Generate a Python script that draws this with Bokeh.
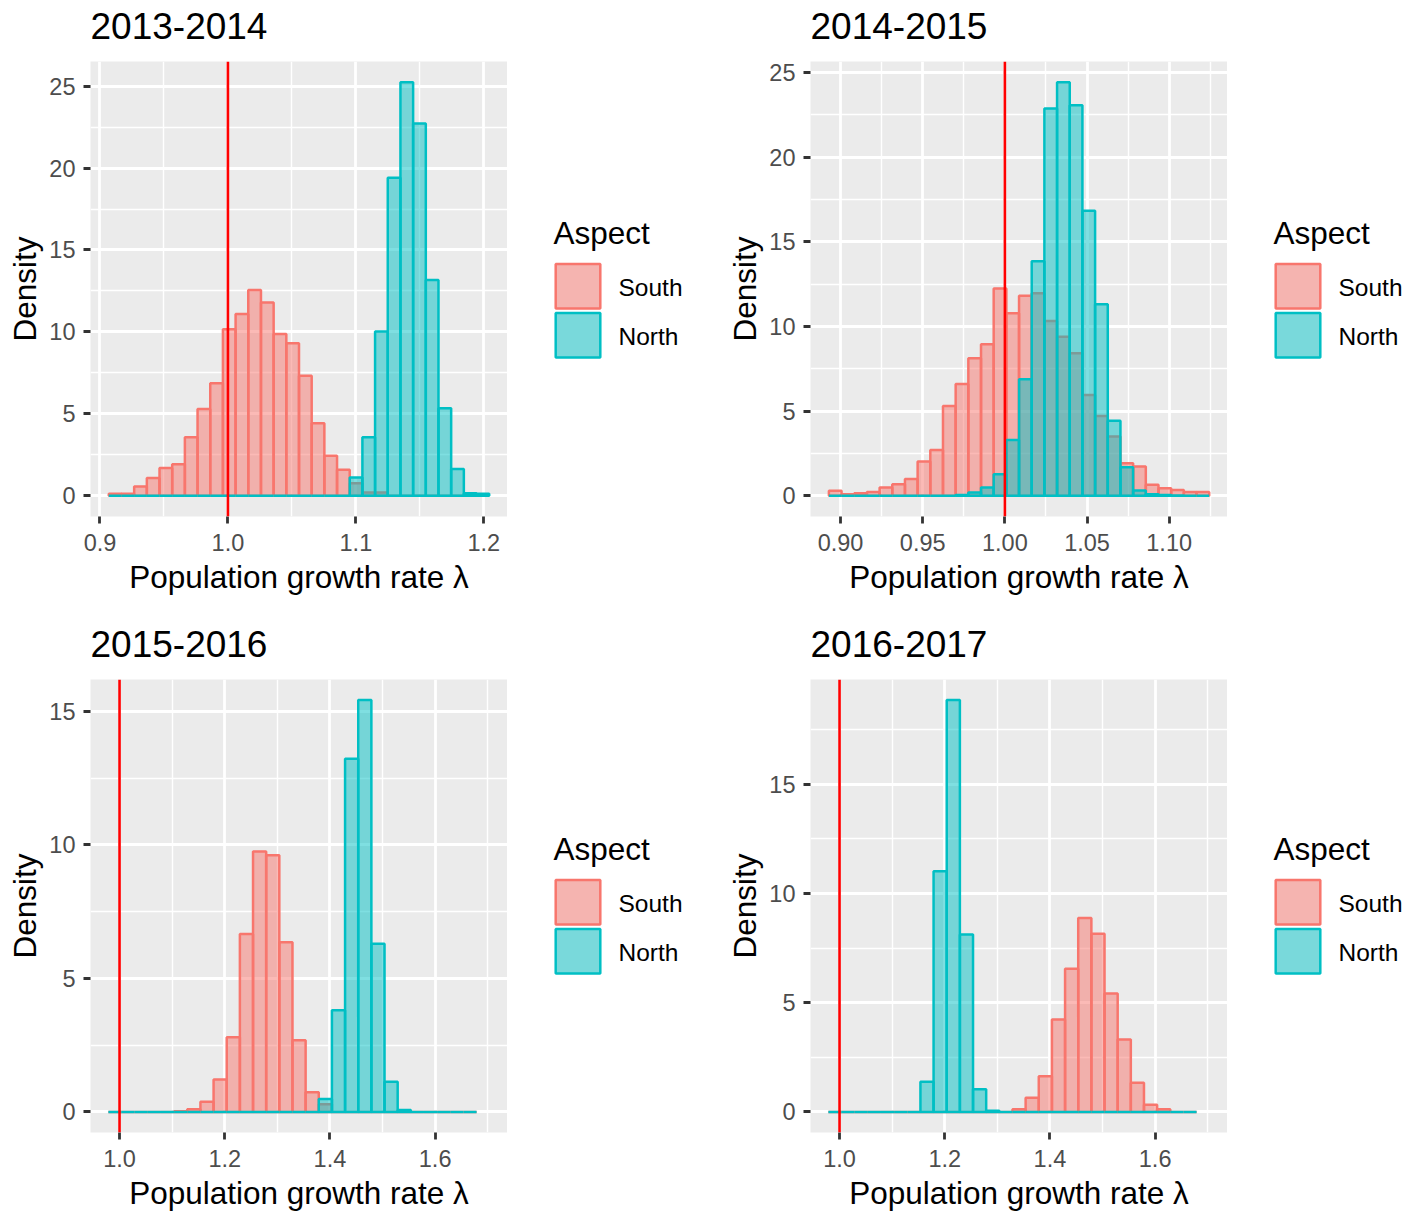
from bokeh.plotting import figure
from bokeh.models import Range1d, FixedTicker, NumeralTickFormatter, Span, Title
from bokeh.core.properties import value
from bokeh.layouts import row, column
from bokeh.embed import file_html
from bokeh.resources import INLINE

titles = ["2013-2014", "2014-2015", "2015-2016", "2016-2017"]
groups = ["South", "North"]
x_label = "Population growth rate λ"
y_label = "Density"
legend_title = "Aspect"

# histogram bins: first edge and bin width per panel
p1_start, p1_width = 0.9069, 0.00991
p1_south = [0.12, 0.12, 0.57, 1.08, 1.69, 1.93, 3.58, 5.30, 6.87, 10.16,
            11.10, 12.56, 11.79, 9.88, 9.31, 7.32, 4.43, 2.44, 1.59, 0.77,
            0.20, 0.20, 0, 0, 0, 0, 0, 0, 0, 0]
p1_north = [0, 0, 0, 0, 0, 0, 0, 0, 0, 0,
            0, 0, 0, 0, 0, 0, 0, 0, 0, 1.12,
            3.58, 10.02, 19.41, 25.24, 22.72, 13.17, 5.35, 1.63, 0.16, 0.12]

p2_start, p2_width = 0.8929, 0.007715
p2_south = [0.30, 0.10, 0.16, 0.22, 0.49, 0.69, 1.00, 2.03, 2.71, 5.31,
            6.61, 8.12, 8.95, 12.25, 10.78, 11.82, 11.96, 10.33, 9.40, 8.42,
            5.96, 4.72, 3.50, 1.93, 1.73, 0.65, 0.45, 0.35, 0.22, 0.22]
p2_north = [0, 0, 0, 0, 0, 0, 0, 0, 0, 0,
            0.05, 0.20, 0.49, 1.28, 3.30, 6.88, 13.85, 22.88, 24.43, 23.07,
            16.84, 11.31, 4.43, 1.69, 0.31, 0.10, 0.05, 0.02, 0, 0]

p3_start, p3_width = 0.9788, 0.025
p3_south = [0, 0, 0, 0, 0, 0.03, 0.10, 0.38, 1.21, 2.80,
            6.66, 9.75, 9.61, 6.35, 2.68, 0.74, 0.29, 0, 0, 0,
            0, 0, 0, 0, 0, 0, 0, 0]
p3_north = [0, 0, 0, 0, 0, 0, 0, 0, 0, 0,
            0, 0, 0, 0, 0, 0, 0.48, 3.81, 13.22, 15.42,
            6.30, 1.13, 0.07, 0, 0, 0, 0, 0]

p4_start, p4_width = 0.9788, 0.025
p4_south = [0, 0, 0, 0, 0, 0, 0, 0, 0, 0,
            0, 0, 0, 0, 0.12, 0.65, 1.63, 4.23, 6.55, 8.88,
            8.16, 5.42, 3.32, 1.34, 0.33, 0.12, 0, 0]
p4_north = [0, 0, 0, 0, 0, 0, 0, 1.38, 11.01, 18.85,
            8.12, 1.04, 0.05, 0, 0, 0, 0, 0, 0, 0,
            0, 0, 0, 0, 0, 0, 0, 0]

reference_line = 1.0

p1_xticks = [0.9, 1.0, 1.1, 1.2]
p1_xminor = [0.95, 1.05, 1.15]
p2_xticks = [0.90, 0.95, 1.00, 1.05, 1.10]
p2_xminor = [0.925, 0.975, 1.025, 1.075, 1.125]
p34_xticks = [1.0, 1.2, 1.4, 1.6]
p34_xminor = [1.1, 1.3, 1.5, 1.7]
p12_yticks = [0, 5, 10, 15, 20, 25]
p12_yminor = [2.5, 7.5, 12.5, 17.5, 22.5]
p3_yticks = [0, 5, 10, 15]
p3_yminor = [2.5, 7.5, 12.5]
p4_yticks = [0, 5, 10, 15]
p4_yminor = [2.5, 7.5, 12.5, 17.5]

SOUTH_C = "#F8766D"
NORTH_C = "#00BFC4"
COLORS = [SOUTH_C, NORTH_C]
FONT = "Liberation Sans"
FRAME_W = 417


def bar_style(color):
    return dict(fill_color=color, fill_alpha=0.5, line_color=color, line_width=2.5)


def make_panel(title, start, width, south, north, xr, yr, xticks, xminor,
               yticks, yminor, xfmt, bl, bt, fh, fig_h):
    p = figure(frame_width=FRAME_W, frame_height=fh, title=None,
               min_border_left=bl, min_border_right=0,
               min_border_top=bt, min_border_bottom=fig_h - bt - fh,
               x_range=Range1d(*xr), y_range=Range1d(*yr),
               output_backend="svg", toolbar_location=None,
               background_fill_color="#EBEBEB", border_fill_color="white",
               outline_line_color=None)
    centers = [start + width * (i + 0.5) for i in range(len(south))]
    p.vbar(x=centers, width=width, top=south, bottom=0, **bar_style(SOUTH_C))
    p.vbar(x=centers, width=width, top=north, bottom=0, **bar_style(NORTH_C))
    p.add_layout(Span(location=reference_line, dimension="height",
                      line_color="#FF0000", line_width=2.6))

    xt = FixedTicker(ticks=xticks, minor_ticks=xminor)
    yt = FixedTicker(ticks=yticks, minor_ticks=yminor)
    p.xaxis.ticker = xt
    p.yaxis.ticker = yt
    p.xgrid.ticker = xt
    p.ygrid.ticker = yt
    p.xaxis.formatter = NumeralTickFormatter(format=xfmt)
    p.yaxis.formatter = NumeralTickFormatter(format="0")
    for g in (p.xgrid, p.ygrid):
        g.grid_line_color = "white"
        g.grid_line_width = 2.8
        g.minor_grid_line_color = "white"
        g.minor_grid_line_width = 1.4
    for ax in (p.xaxis, p.yaxis):
        ax.axis_line_color = None
        ax.minor_tick_line_color = None
        ax.major_tick_line_color = "#333333"
        ax.major_tick_line_width = 2.8
        ax.major_tick_in = 0
        ax.major_tick_out = 7
        ax.major_label_text_font = FONT
        ax.major_label_text_font_size = "23.5px"
        ax.major_label_text_color = "#4D4D4D"
        ax.axis_label_text_font = FONT
        ax.axis_label_text_font_size = "31.5px"
        ax.axis_label_text_font_style = "normal"
        ax.axis_label_text_color = "black"
    p.xaxis.axis_label = x_label
    p.yaxis.axis_label = y_label
    p.xaxis.major_label_standoff = 10
    p.yaxis.major_label_standoff = 8
    p.xaxis.axis_label_standoff = 5
    p.yaxis.axis_label_standoff = 3

    # spacer between frame and title, then the title itself
    p.add_layout(Title(text=" ", text_font_size="1px", standoff=20), "above")
    p.add_layout(Title(text=title, text_font=FONT, text_font_size="37px",
                       text_font_style="normal", text_color="black",
                       align="left", standoff=0), "above")
    return p


def make_legend_box(w, bt, fh, fig_h, top):
    # a small canvas whose frame lines up with the panel frame; pixel units, y downwards
    q = figure(frame_width=w, frame_height=fh, title=None, toolbar_location=None,
               min_border_left=0, min_border_right=0,
               min_border_top=bt, min_border_bottom=fig_h - bt - fh,
               x_axis_type=None, y_axis_type=None, output_backend="svg",
               x_range=Range1d(0, w), y_range=Range1d(fh, 0),
               background_fill_color="white", border_fill_color="white",
               outline_line_color=None)
    q.xgrid.visible = False
    q.ygrid.visible = False
    key_h = 44.5
    key_tops = [top + 19.5, top + 68.5]
    for color, kt in zip(COLORS, key_tops):
        q.quad(left=[48.2], right=[92.8], top=[kt], bottom=[kt + key_h],
               fill_color="#F2F2F2", line_color=None)
        q.quad(left=[48.2], right=[92.8], top=[kt], bottom=[kt + key_h], **bar_style(color))
    q.text(x=[46], y=[top - 11.3], text=[legend_title], text_font=value(FONT),
           text_font_size="31.5px", text_color="black", text_baseline="middle")
    q.text(x=[111, 111], y=[kt + key_h / 2 + 1.5 for kt in key_tops], text=groups,
           text_font=value(FONT), text_font_size="24.5px", text_color="black",
           text_baseline="middle")
    return q


ROW1_H = 600
ROW2_H = 607
f1 = make_panel(titles[0], p1_start, p1_width, p1_south, p1_north,
                (0.8926, 1.2185), (-1.262, 26.5), p1_xticks, p1_xminor,
                p12_yticks, p12_yminor, "0.0", 90, 61, 455, ROW1_H)
f2 = make_panel(titles[1], p2_start, p2_width, p2_south, p2_north,
                (0.8817, 1.1355), (-1.22, 25.65), p2_xticks, p2_xminor,
                p12_yticks, p12_yminor, "0.00", 106, 61, 455, ROW1_H)
f3 = make_panel(titles[2], p3_start, p3_width, p3_south, p3_north,
                (0.9448, 1.7376), (-0.77, 16.19), p34_xticks, p34_xminor,
                p3_yticks, p3_yminor, "0.0", 90, 79, 453, ROW2_H)
f4 = make_panel(titles[3], p4_start, p4_width, p4_south, p4_north,
                (0.9448, 1.7376), (-0.94, 19.79), p34_xticks, p34_xminor,
                p4_yticks, p4_yminor, "0.0", 106, 79, 453, ROW2_H)

# baseline of "Aspect", in pixels below each panel frame's top
l1 = make_legend_box(197, 61, 455, ROW1_H, 183)
l2 = make_legend_box(181, 61, 455, ROW1_H, 183)
l3 = make_legend_box(197, 79, 453, ROW2_H, 181)
l4 = make_legend_box(181, 79, 453, ROW2_H, 181)

layout = column(row(f1, l1, f2, l2), row(f3, l3, f4, l4))
open("out.html", "w").write(file_html(layout, INLINE))
